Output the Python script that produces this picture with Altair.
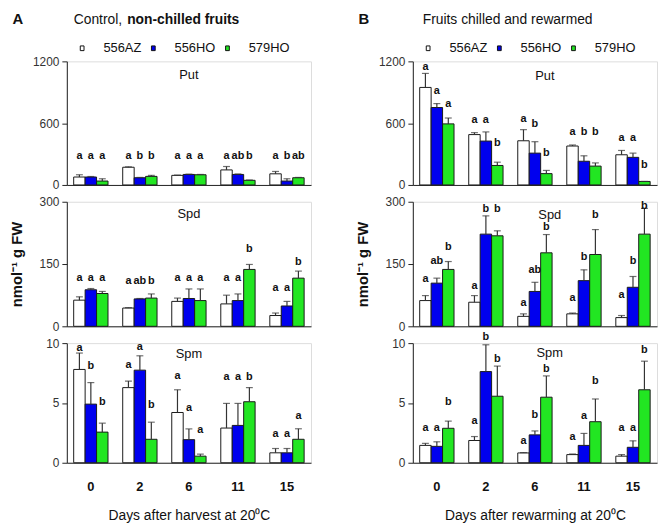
import altair as alt
import pandas as pd

FONT = "Liberation Sans"
W = 247

days = ["0", "2", "6", "11", "15"]
cultivars = ["556AZ", "556HO", "579HO"]
bar_colors = ["#ffffff", "#0000ee", "#22e622"]

# ---------------- Panel A: control, non-chilled fruits ----------------
a_put_mean = [[77, 77, 38], [172, 70, 83], [93, 102, 99], [146, 102, 45], [108, 38, 70]]
a_put_sd = [[22, 5, 22], [5, 3, 10], [3, 3, 3], [33, 5, 3], [23, 22, 3]]
a_put_let = [["a", "a", "a"], ["a", "b", "b"], ["a", "a", "a"], ["a", "ab", "b"], ["a", "b", "ab"]]
a_put_ly = [[284, 284, 284], [284, 284, 284], [284, 284, 284], [284, 284, 284], [284, 284, 284]]

a_spd_mean = [[63, 88, 79], [44, 66, 68], [60, 67, 62], [54, 62, 137], [26, 49, 116]]
a_spd_sd = [[8, 3, 5], [1, 1, 10], [8, 23, 28], [21, 16, 12], [6, 11, 17]]
a_spd_let = [["a", "a", "a"], ["a", "ab", "b"], ["a", "a", "a"], ["a", "a", "b"], ["a", "a", "b"]]
a_spd_ly = [[116, 116, 116], [109, 109, 109], [116, 116, 116], [116, 116, 185], [92, 92, 155]]

a_spm_mean = [[7.8, 4.9, 2.56], [6.28, 7.74, 1.96], [4.2, 1.93, 0.55], [2.9, 3.12, 5.1], [0.83, 0.83, 1.96]]
a_spm_sd = [[1.37, 1.8, 0.75], [0.55, 1.2, 1.43], [1.9, 0.9, 0.17], [2.06, 1.84, 1.18], [0.36, 0.36, 0.88]]
a_spm_let = [["a", "b", "b"], ["a", "a", "b"], ["a", "a", "a"], ["a", "a", "b"], ["a", "a", "a"]]
a_spm_ly = [[9.6, 8.07, 5.1], [8.2, 9.65, 4.85], [7.25, 4.55, 2.76], [7.17, 7.17, 7.17], [2.43, 2.43, 3.94]]

# ---------------- Panel B: fruits chilled and rewarmed ----------------
b_put_mean = [[947, 752, 593], [489, 426, 189], [429, 309, 110], [378, 230, 183], [293, 268, 34]]
b_put_sd = [[136, 38, 57], [19, 89, 32], [108, 111, 31], [10, 53, 31], [42, 41, 0]]
b_put_let = [["a", "a", "a"], ["a", "a", "b"], ["a", "b", "b"], ["a", "b", "b"], ["a", "a", "b"]]
b_put_ly = [[1146, 909, 790], [631, 631, 404], [641, 587, 309], [515, 515, 515], [451, 451, 189]]

b_spd_mean = [[62, 104, 137], [58, 222, 218], [24, 84, 177], [30, 110, 173], [21, 94, 222]]
b_spd_sd = [[12, 12, 19], [16, 44, 12], [6, 22, 44], [2, 26, 60], [5, 26, 62]]
b_spd_let = [["a", "ab", "b"], ["a", "b", "b"], ["a", "ab", "b"], ["a", "b", "b"], ["a", "b", "b"]]
b_spd_ly = [[113, 158, 190], [98, 282, 282], [57, 136, 238], [68, 168, 268], [76, 158, 290]]

b_spm_mean = [[1.45, 1.37, 2.88], [1.86, 7.62, 5.56], [0.82, 2.33, 5.48], [0.68, 1.45, 3.43], [0.55, 1.29, 6.1]]
b_spm_sd = [[0.17, 0.38, 0.6], [0.33, 2.24, 2.52], [0.03, 0.33, 1.78], [0.05, 1.0, 1.9], [0.13, 0.54, 2.39]]
b_spm_let = [["a", "a", "b"], ["a", "b", "b"], ["a", "b", "b"], ["a", "a", "b"], ["a", "a", "b"]]
b_spm_ly = [[2.88, 2.88, 5.07], [3.48, 10.54, 8.71], [1.83, 3.97, 7.86], [2.11, 3.92, 6.85], [2.93, 2.93, 9.45]]

y_title = "nmol\u207b\u00b9 g FW"
x_title_a = "Days after harvest at 20\u2070C"
x_title_b = "Days after rewarming at 20\u2070C"


def table(mean, sd, let, ly):
    rows = []
    for i, d in enumerate(days):
        for j, c in enumerate(cultivars):
            rows.append({"day": d, "cult": c, "mean": mean[i][j],
                         "hi": mean[i][j] + sd[i][j], "letter": let[i][j], "ly": ly[i][j]})
    return pd.DataFrame(rows)


def panel(df, name, ymax, yticks, height, name_dx, name_y,
          xtitle=None, ytitle=None, legend=False, heads=()):
    if xtitle:
        xkw = dict(labels=True, ticks=False, tickSize=0, domainColor="#222",
                   labelAngle=0, labelFont=FONT, labelFontSize=13, labelFontWeight="bold",
                   labelColor="#111", labelPadding=18, title=xtitle, titleFont=FONT,
                   titleFontSize=14, titleFontWeight="normal", titleColor="#111",
                   titleY=46, titleBaseline="top")
    else:
        xkw = dict(labels=False, ticks=False, tickSize=0, domainColor="#222", title=None)
    ykw = dict(values=yticks, format="d", tickSize=5, tickColor="#222", domainColor="#222",
               labelFont=FONT, labelFontSize=12, labelColor="#333", labelPadding=3, grid=False)
    if ytitle:
        ykw.update(title=ytitle, titleX=-51, titleY=height / 2, titleBaseline="middle",
                   titleAlign="center", titleAngle=270, titleFont=FONT, titleFontSize=15,
                   titleFontWeight="bold", titleColor="#111")
    else:
        ykw.update(title=None)

    yscale = alt.Scale(domain=[0, ymax], nice=False, zero=True)
    X = alt.X("day:N", sort=days,
              scale=alt.Scale(domain=days, paddingInner=0.3, paddingOuter=0.14),
              axis=alt.Axis(**xkw))
    XO = alt.XOffset("cult:N", sort=cultivars,
                     scale=alt.Scale(domain=cultivars, paddingInner=0, paddingOuter=0))

    def Y(field):
        return alt.Y(f"{field}:Q", scale=yscale, axis=alt.Axis(**ykw))

    if legend:
        leg = alt.Legend(orient="none", legendX=9, legendY=-20, direction="horizontal",
                         title=None, symbolType="M-0.4,-0.5L0.4,-0.5L0.4,0.5L-0.4,0.5Z",
                         symbolSize=90, symbolStrokeColor="#111", symbolStrokeWidth=1,
                         labelFont=FONT, labelFontSize=13, labelColor="#111",
                         labelOffset=15, columnPadding=5, padding=0)
    else:
        leg = None
    fill = alt.Fill("cult:N", sort=cultivars,
                    scale=alt.Scale(domain=cultivars, range=bar_colors), legend=leg)

    base = alt.Chart(df).encode(x=X, xOffset=XO)
    bars = base.mark_bar(stroke="#1a1a1a", strokeWidth=1).encode(y=Y("mean"), fill=fill)
    err = base.mark_rule(color="#333", strokeWidth=1.2).encode(y=Y("mean"), y2="hi:Q")
    cap = base.mark_tick(color="#333", thickness=1.2, size=7).encode(y=Y("hi"))
    letters = base.mark_text(font=FONT, fontSize=11, fontWeight="bold", color="#111",
                             baseline="middle").encode(y=Y("ly"), text="letter:N")
    label = alt.Chart(pd.DataFrame({"t": [name]})).mark_text(
        font=FONT, fontSize=13, color="#111", baseline="middle", align="center"
    ).encode(text="t:N", x=alt.value(W / 2 + name_dx), y=alt.value(name_y))

    layers = [bars, err, cap, letters, label]
    for txt, hx, hy, size, weight in heads:
        layers.append(alt.Chart(pd.DataFrame({"t": [txt]})).mark_text(
            font=FONT, fontSize=size, fontWeight=weight, color="#111",
            align="left", baseline="alphabetic"
        ).encode(text="t:N", x=alt.value(hx), y=alt.value(hy)))
    return alt.layer(*layers).properties(width=W, height=height)


heads_a = [("A", -55, -38, 15, "bold"), ("Control,", 7, -38, 14, "normal"),
           ("non-chilled fruits", 61, -38, 14, "bold")]
heads_b = [("B", -55, -38, 15, "bold"), ("Fruits chilled and rewarmed", 10, -38, 14, "normal")]

putA = panel(table(a_put_mean, a_put_sd, a_put_let, a_put_ly), "Put", 1200, [0, 600, 1200],
             125, 0, 14, legend=True, heads=heads_a)
putB = panel(table(b_put_mean, b_put_sd, b_put_let, b_put_ly), "Put", 1200, [0, 600, 1200],
             125, 10, 15, legend=True, heads=heads_b)
spdA = panel(table(a_spd_mean, a_spd_sd, a_spd_let, a_spd_ly), "Spd", 300, [0, 150, 300],
             126, 0, 12, ytitle=y_title)
spdB = panel(table(b_spd_mean, b_spd_sd, b_spd_let, b_spd_ly), "Spd", 300, [0, 150, 300],
             126, 15, 13, ytitle=y_title)
spmA = panel(table(a_spm_mean, a_spm_sd, a_spm_let, a_spm_ly), "Spm", 10, [0, 5, 10],
             121, 0, 11, xtitle=x_title_a)
spmB = panel(table(b_spm_mean, b_spm_sd, b_spm_let, b_spm_ly), "Spm", 10, [0, 5, 10],
             121, 15, 10, xtitle=x_title_b)

chart = alt.concat(
    putA, putB, spdA, spdB, spmA, spmB,
    columns=2, spacing={"row": 17, "column": 103}, bounds="flush", align="each"
).resolve_legend(fill="independent").resolve_scale(xOffset="independent").properties(
    padding={"left": 0.5, "top": 0, "right": 0, "bottom": 0}
).configure_view(stroke="#aaaaaa", strokeWidth=1).configure(font=FONT)

chart.save("out.html", embed_options={"renderer": "svg", "actions": False})
